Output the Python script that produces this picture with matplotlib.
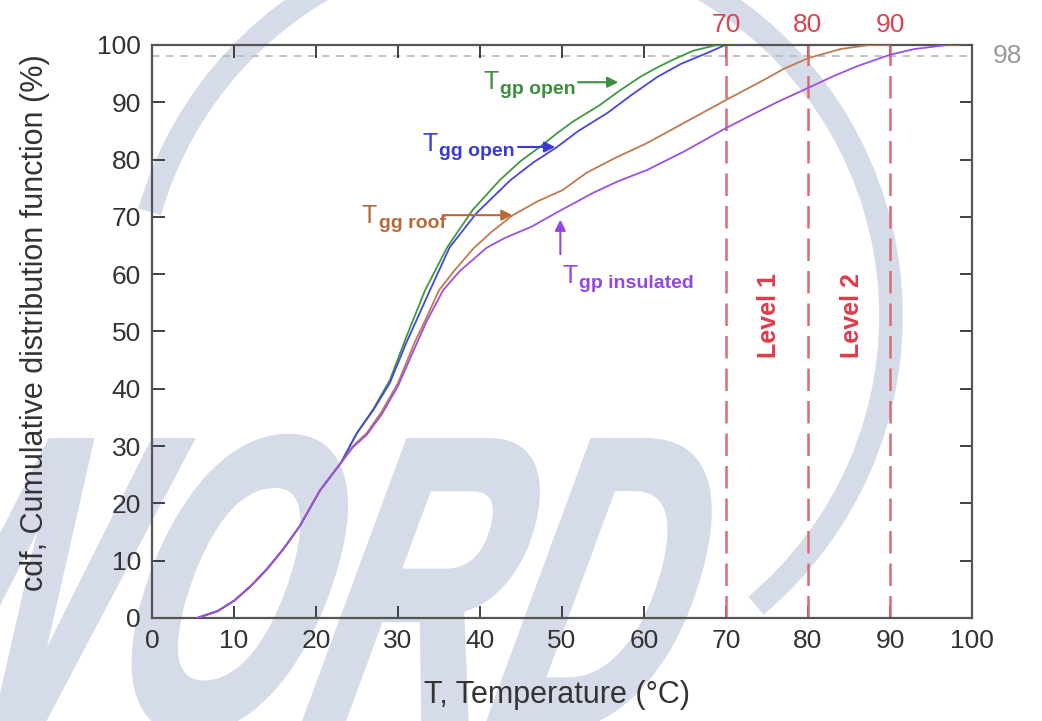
import matplotlib
matplotlib.use("Agg")
import matplotlib.pyplot as plt
import matplotlib.transforms as mtransforms
from matplotlib.patches import Arc, PathPatch
from matplotlib.textpath import TextPath
from matplotlib.font_manager import FontProperties

plt.rcParams["font.family"] = ["Liberation Sans", "DejaVu Sans"]

# cumulative distribution curves
gp_open_x = [5.5, 8, 10, 12, 14, 16, 18, 20.5, 23, 25, 27, 29, 31, 33.3, 36, 39.1, 42.4, 45,
             47.3, 49.4, 51.3, 54.6, 57, 59.5, 61.5, 63.5, 66, 68.9, 72]
gp_open_y = [0, 1.2, 3, 5.5, 8.5, 12, 16, 22.3, 27, 32.3, 36.5, 41.5, 49, 57.2, 64.7, 71.2, 76.4, 79.8,
             82.2, 84.6, 86.6, 89.5, 92, 94.4, 96, 97.4, 99, 100, 100]

gg_open_x = [5.5, 8, 10, 12, 14, 16, 18, 20.5, 23, 25, 27, 29, 31, 33.9, 36.3, 39.6, 43.7, 46.5,
             49.4, 52, 55.5, 58.5, 61.6, 64.5, 67.7, 69.9, 72]
gg_open_y = [0, 1.2, 3, 5.5, 8.5, 12, 16, 22.3, 27, 32.3, 36.3, 41, 48, 57.2, 64.7, 70.7, 76.4, 79.5,
             82.2, 85, 88.1, 91.3, 94.4, 96.7, 98.6, 100, 100]

gg_roof_x = [5.5, 8, 10, 12, 14, 16, 18, 20.5, 23, 24.5, 26.2, 28, 30, 32, 33.5, 35, 36.8, 39.2, 41.5,
             44, 47, 50.1, 53, 56.5, 60.4, 65, 70, 74.1, 77, 80, 84, 87.5, 90]
gg_roof_y = [0, 1.2, 3, 5.5, 8.5, 12, 16, 22.3, 27, 30, 32.3, 36, 41, 48, 52.5, 57.2, 60.5, 64.5, 67.5,
             70.3, 72.7, 74.7, 77.7, 80.3, 82.9, 86.5, 90.4, 93.5, 95.8, 97.7, 99.3, 100, 100]

gp_ins_x = [5.5, 8, 10, 12, 14, 16, 18, 20.5, 23, 24.5, 26.2, 28, 30, 32, 33.5, 35.5, 37.5, 40.8, 43,
            46.3, 49.4, 53.8, 56.8, 60.4, 65, 70, 73, 76.2, 80, 83, 86, 90, 93, 97, 98.5]
gp_ins_y = [0, 1.2, 3, 5.5, 8.5, 12, 16, 22.3, 27, 29.8, 32, 35.5, 40.5, 47, 51.8, 57.2, 60.5, 64.6, 66.3,
            68.3, 70.8, 74.2, 76.2, 78.2, 81.5, 85.5, 87.7, 90, 92.5, 94.5, 96.3, 98.3, 99.3, 100, 100]

levels = [70, 80, 90]
level_names = ["Level 1", "Level 2"]
threshold = 98

fig = plt.figure(figsize=(10.42, 7.21), dpi=100)
ax = fig.add_axes([0.1459, 0.1429, 0.7869, 0.7947])
ax.patch.set_alpha(0)

# watermark (ring + big letters) behind everything
wm = "#d5dbe8"
ring = Arc((5.13, 4.05), 7.56, 7.56, theta1=-50, theta2=164, lw=17, color=wm,
           transform=fig.dpi_scale_trans, zorder=-5)
fig.add_artist(ring)
tp = TextPath((0, 0), "WORD", size=1,
              prop=FontProperties(family="Liberation Sans", weight="bold", style="italic"))
tr = (mtransforms.Affine2D().scale(2.55, 4.15).skew_deg(14, 0).translate(-1.40, -0.06)
      + fig.dpi_scale_trans)
fig.add_artist(PathPatch(tp, transform=tr, fc=wm, ec=wm, lw=5, zorder=-5))

# curves
ax.plot(gp_open_x, gp_open_y, color="#3f9a3f", lw=1.3, zorder=3)
ax.plot(gg_open_x, gg_open_y, color="#4646e0", lw=1.3, zorder=3)
ax.plot(gg_roof_x, gg_roof_y, color="#c07a4e", lw=1.3, zorder=3)
ax.plot(gp_ins_x, gp_ins_y, color="#9a50e8", lw=1.3, zorder=3)

# threshold + levels
ax.axhline(threshold, color="#b8b8b8", lw=1.2, ls=(0, (4.5, 4)), zorder=1)
ax.text(104.3, threshold, str(threshold), color="#999999", fontsize=19, va="center", ha="center",
        clip_on=False)
for lv in levels:
    ax.axvline(lv, color="#da6a74", lw=1.8, ls=(0, (9, 4)), zorder=2)
    ax.text(lv, 103.5, str(lv), color="#d64550", fontsize=19, ha="center", va="center", clip_on=False)
for xpos, name in zip([75.2, 85.4], level_names):
    ax.text(xpos, 52.8, name, color="#e03a48", fontsize=18, fontweight="bold", rotation=90,
            ha="center", va="center")


# labels "T" + bold subscript, with arrows
def label(x, y, sub, color, tail, head):
    t = ax.text(x, y, "T", color=color, fontsize=18, ha="left", va="baseline")
    ax.annotate(sub, xy=(1, 0), xycoords=t, xytext=(1, 0), textcoords="offset points",
                color=color, fontsize=14, fontweight="bold", ha="left", va="baseline")
    ax.annotate("", xy=head, xytext=tail,
                arrowprops=dict(arrowstyle="-|>", color=color, lw=1.5, mutation_scale=16))


label(40.4, 92.4, "gp open", "#3c8f3c", (51.6, 93.5), (57.2, 93.5))
label(33.0, 81.5, "gg open", "#3a3ad8", (44.3, 82.2), (49.5, 82.2))
label(25.6, 69.0, "gg roof", "#b8693a", (35.1, 70.3), (44.3, 70.3))
label(50.1, 58.4, "gp insulated", "#9446e6", (49.8, 63.0), (49.8, 70.0))

ax.set_xlim(0, 100)
ax.set_ylim(0, 100)
ax.set_xticks(range(0, 101, 10))
ax.set_yticks(range(0, 101, 10))
ax.tick_params(direction="in", length=9, width=1.3, top=True, right=True,
               labelsize=19, colors="#333333", pad=8)
for s in ax.spines.values():
    s.set_color("#555555")
    s.set_linewidth(1.6)

ax.set_xlabel("T, Temperature (°C)", fontsize=22, color="#333333")
ax.set_ylabel("cdf, Cumulative distribution function (%)", fontsize=22, color="#333333")
ax.xaxis.set_label_coords(0.494, -0.108)
ax.yaxis.set_label_coords(-0.124, 0.515)

fig.savefig("out.png", dpi=100)
